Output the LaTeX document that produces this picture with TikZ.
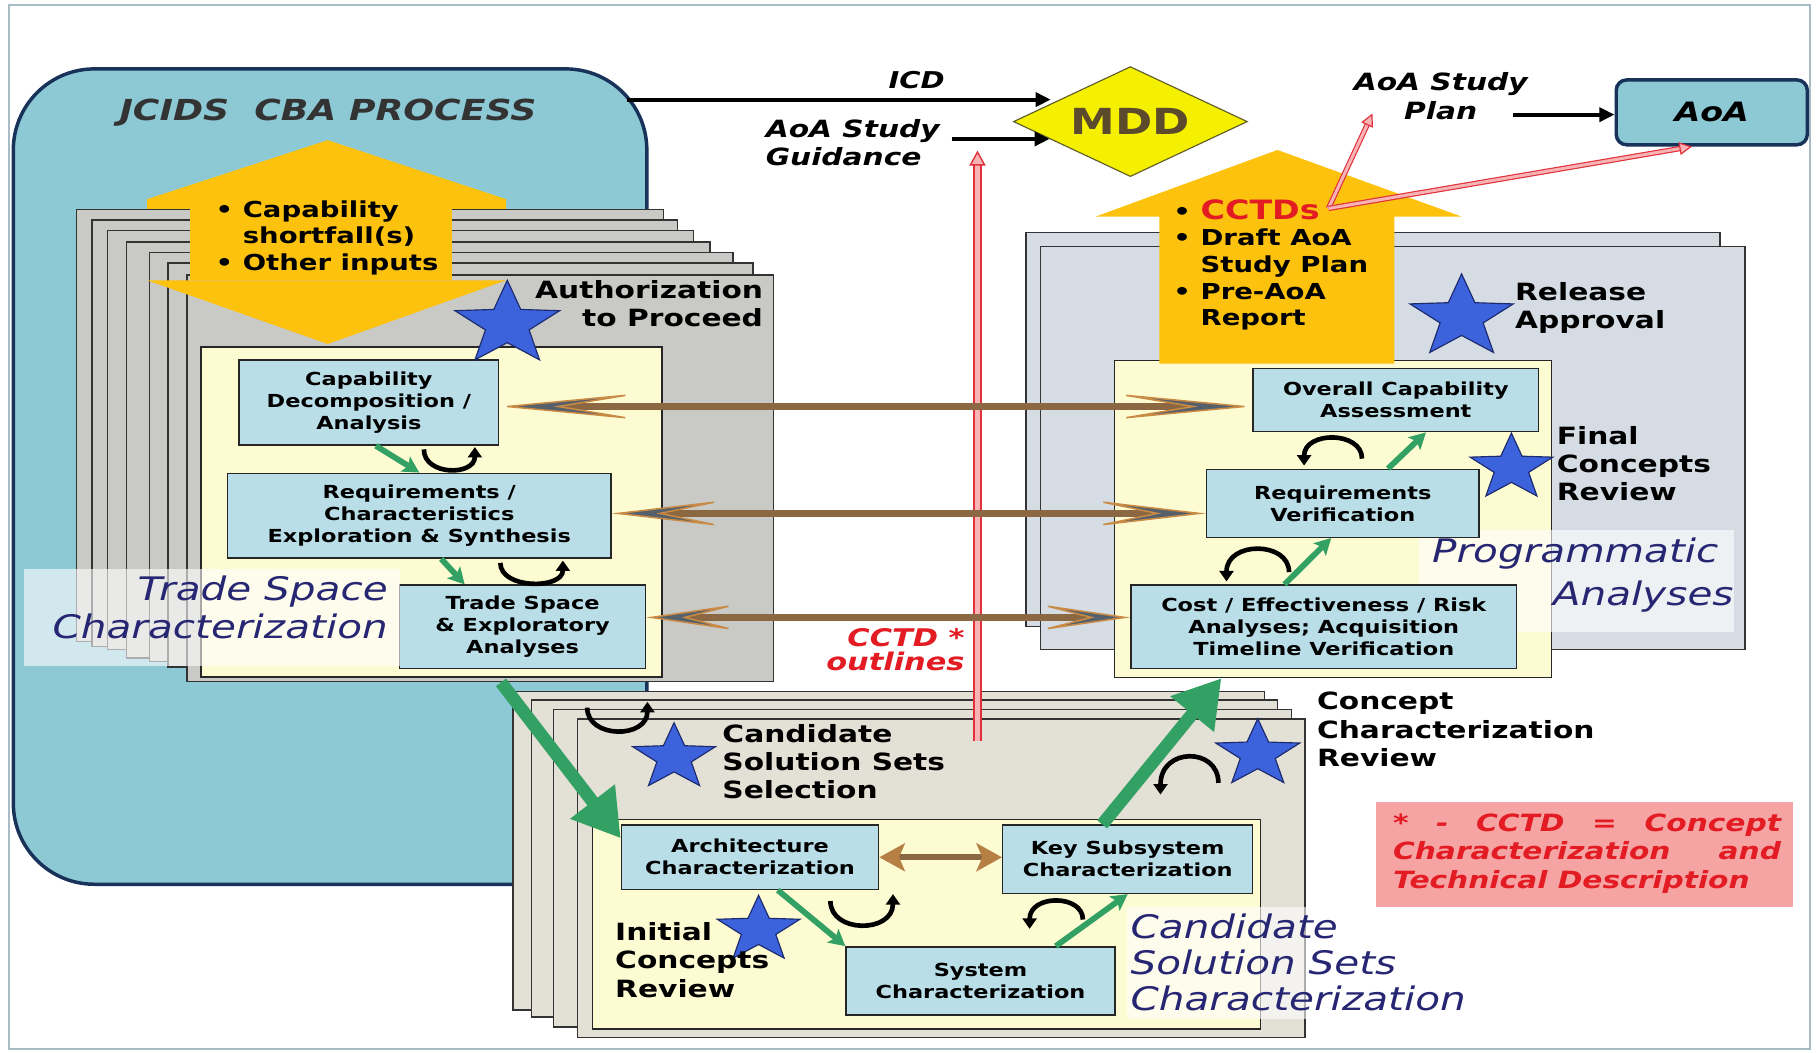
\documentclass[tikz,border=0pt]{standalone}
\usepackage{fontspec}
\setmainfont{DejaVu Sans}[FakeStretch=1.25]
\usetikzlibrary{arrows.meta,shapes.geometric,calc}
\definecolor{jcblue}{HTML}{8DC9D5}
\definecolor{navyb}{HTML}{18325A}
\definecolor{paleblue}{HTML}{B9DEE8}
\definecolor{paleyel}{HTML}{FDFBD2}
\definecolor{pagegray}{HTML}{C9C9C6}
\definecolor{pageblue}{HTML}{D5DCE3}
\definecolor{pagebeige}{HTML}{E3E0D6}
\definecolor{amber}{HTML}{FDC20E}
\definecolor{mddyel}{HTML}{F5F000}
\definecolor{starblue}{HTML}{3C62DC}
\definecolor{stardark}{HTML}{1C2B6E}
\definecolor{ggreen}{HTML}{33A064}
\definecolor{brownline}{HTML}{8B6842}
\definecolor{brownedge}{HTML}{C98A45}
\definecolor{slatefill}{HTML}{56606A}
\definecolor{navytext}{HTML}{262673}
\definecolor{cred}{HTML}{E31B23}
\definecolor{notefill}{HTML}{F5A3A3}
\definecolor{redline}{HTML}{E0303A}
\definecolor{pinkfill}{HTML}{F8B4B4}
\definecolor{framecol}{HTML}{A9BCC6}
\definecolor{mddtext}{HTML}{5B4A2C}
\newcommand{\myfs}[2]{\fontsize{#1}{#2}\selectfont}
\newcommand{\milestar}[4]{\begin{scope}[shift={(#2,#3)},xscale=1.25]\node[mstarsty,transform shape,minimum size=#4] (#1) at (0,0) {};\end{scope}}
\begin{document}
\begin{tikzpicture}[x=1pt,y=-1pt,
 pbox/.style={draw=black!85,line width=1.2pt,fill=paleblue,inner sep=0pt,align=center,font=\myfs{15.5}{19}\bfseries,text=black},
 ybox/.style={draw=black!85,line width=1.2pt,fill=paleyel,inner sep=0pt,anchor=north west},
 pagesty/.style={draw=black!80,line width=1.2pt},
 mstarsty/.style={star,star points=5,star point ratio=2.4,fill=starblue,draw=stardark,line width=1pt,inner sep=0pt},
 milestone/.style={font=\myfs{20.5}{24.5}\bfseries,inner sep=0pt,align=left,text=black},
 italab/.style={font=\myfs{28}{33}\itshape,text=navytext,inner sep=0pt},
 loopsty/.style={draw=black,line width=4pt,-{Triangle[length=9pt,width=12pt]}},
 gsmall/.style={draw=ggreen,line width=5pt,-{Stealth[length=14pt,width=15pt,inset=3pt]}},
 gbig/.style={draw=ggreen,line width=11pt,-{Triangle[length=40pt,width=46pt]}},
 barrow/.style 2 args={draw=brownline,line width=5.5pt,arrows={Stealth[length=#1,width=24pt,inset=#2,line width=1.3pt,color=brownedge,fill=slatefill]-Stealth[length=#1,width=24pt,inset=#2,line width=1.3pt,color=brownedge,fill=slatefill]}},
 bshort/.style={draw=brownline,line width=5pt,arrows={Stealth[length=22pt,width=24pt,inset=5pt,color=brownedge!70!brownline]-Stealth[length=22pt,width=24pt,inset=5pt,color=brownedge!70!brownline]}},
 blkarrow/.style={draw=black,line width=3.5pt,-{Triangle[length=13pt,width=12pt]}},
 redshaft/.style={draw=redline,line width=1.3pt,double=pinkfill,double distance=4.5pt},
 redshaftb/.style={draw=redline,line width=1pt,double=pinkfill,double distance=2.6pt},
 redhead/.style={draw=redline,line width=1.2pt,-{Triangle[length=13pt,width=14pt,fill=pinkfill]}},
 redheadb/.style={draw=redline,line width=1pt,-{Triangle[length=11pt,width=11pt,fill=pinkfill]}},
 boldital/.style={font=\myfs{20.5}{24.5}\bfseries\itshape,inner sep=0pt}
]
\useasboundingbox (0,0) rectangle (1568,909);
\fill[white] (0,0) rectangle (1568,909);
\draw[framecol,line width=2pt] (8,4.5) rectangle (1563,905.5);

% JCIDS box
\node[draw=navyb,line width=3pt,fill=jcblue,rounded corners=70pt,minimum width=547pt,minimum height=704pt,anchor=north west,inner sep=0pt] (jcids) at (10,58) {};
\node[anchor=base west,font=\myfs{25}{25}\bfseries\itshape,text=black!80,inner sep=0pt] (tJC) at (103,104) {JCIDS~~CBA PROCESS};

% left yellow hexagon (behind pages)
\fill[amber] (283,121) -- (437,172) -- (437,242) -- (283,297) -- (127,242) -- (127,172) -- cycle;

% left stack of pages
\foreach \l/\t/\r/\b in {66/181/573/554, 79.5/190/585/558, 93/199/599/561, 109/209/613/568, 129/218/633/571, 145/227/650/576}{
  \filldraw[pagesty,fill=pagegray] (\l,\t) rectangle (\r,\b);
}
\node[pagesty,fill=pagegray,anchor=north west,minimum width=506pt,minimum height=351pt,inner sep=0pt] (lpage) at (161,237) {};

% yellow parts in front of pages
\fill[amber] (164,174) rectangle (390,242);
\fill[amber] (127,242) -- (437,242) -- (283,297) -- cycle;
\node[anchor=north west,align=left,font=\myfs{19}{23}\bfseries,inner sep=0pt] (hextxt) at (186,172.8) {•~Capability\\\phantom{•~}shortfall(s)\\•~Other inputs};

% left yellow box and boxes
\node[ybox,minimum width=398pt,minimum height=285pt] (lyel) at (173,299) {};
\node[pbox,minimum width=224pt,minimum height=73.4pt] (capdec) at (318.5,347.6) {Capability\\Decomposition /\\Analysis};
\node[pbox,minimum width=331pt,minimum height=73.3pt] (req) at (362,445.3) {Requirements /\\Characteristics\\Exploration \& Synthesis};
\node[pbox,minimum width=212.3pt,minimum height=71.8pt] (trade) at (451.2,541.1) {Trade Space\\\& Exploratory\\Analyses};

% Trade Space Characterization label
\fill[white,opacity=0.6] (21,491) rectangle (345,575);
\node[italab,anchor=north east,align=right] (tTSC) at (335,497) {Trade Space\\Characterization};

% Authorization star
\milestar{stAuth}{438}{280}{76pt}
\node[milestone,anchor=north east,align=right] (tAuth) at (659,241.6) {Authorization\\to Proceed};

% right pages
\filldraw[pagesty,fill=pageblue] (886,201) rectangle (1485,541);
\node[pagesty,fill=pageblue,anchor=north west,minimum width=608pt,minimum height=348pt,inner sep=0pt] (rpage) at (898,212) {};
\node[ybox,minimum width=377.4pt,minimum height=273.5pt] (ryel) at (961.6,310.9) {};
\fill[white,opacity=0.6] (1225,458) rectangle (1497,546);

% right yellow up arrow
\fill[amber] (1103,129.5) -- (1262,187) -- (1204,187) -- (1204,314) -- (1001,314) -- (1001,187) -- (946,187) -- cycle;
\node[anchor=north west,align=left,font=\myfs{19}{23}\bfseries,inner sep=0pt] (ratxt) at (1013,172) {•~{\color{cred}\myfs{23}{23}CCTDs}\\•~Draft AoA\\\phantom{•~}Study Plan\\•~Pre-AoA\\\phantom{•~}Report};

% right boxes
\node[pbox,minimum width=246.8pt,minimum height=54.8pt] (overall) at (1205.2,345.4) {Overall Capability\\Assessment};
\node[pbox,minimum width=235.4pt,minimum height=58.7pt] (reqver) at (1159.4,434.6) {Requirements\\Verification};
\node[pbox,minimum width=333.2pt,minimum height=71.8pt] (cost) at (1143,541.1) {Cost / Effectiveness / Risk\\Analyses; Acquisition\\Timeline Verification};

\milestar{stRel}{1262}{274}{75pt}
\node[milestone,anchor=north west] (tRel) at (1308,243.6) {Release\\Approval};
\milestar{stFin}{1305}{404}{60pt}
\node[milestone,anchor=north west] (tFin) at (1344,367.6) {Final\\Concepts\\Review};
\node[italab,anchor=north east,align=right,font=\myfs{28}{37}\itshape] (tPA) at (1497,464) {Programmatic\hspace*{13pt}\\Analyses};

% bottom pages
\filldraw[pagesty,fill=pagebeige] (443,597) rectangle (1092,872);
\filldraw[pagesty,fill=pagebeige] (459,604.5) rectangle (1103,878);
\filldraw[pagesty,fill=pagebeige] (478,612.5) rectangle (1115,886.6);
\node[pagesty,fill=pagebeige,anchor=north west,minimum width=628.2pt,minimum height=274.9pt,inner sep=0pt] (bpage) at (497.8,620.3) {};
\node[ybox,minimum width=577pt,minimum height=181pt] (byel) at (511,707) {};

\node[pbox,minimum width=222.1pt,minimum height=55.6pt] (arch) at (647.6,740.2) {Architecture\\Characterization};
\node[pbox,minimum width=215.9pt,minimum height=59pt] (key) at (973.7,741.9) {Key Subsystem\\Characterization};
\node[pbox,minimum width=232.2pt,minimum height=59pt] (sys) at (846.6,847) {System\\Characterization};

\milestar{stSel}{582}{654}{60pt}
\node[milestone,anchor=north west] (tSel) at (623.6,625) {Candidate\\Solution Sets\\Selection};
\milestar{stCCR}{1086}{651}{61pt}
\node[milestone,anchor=north west] (tCCR) at (1137,597.6) {Concept\\Characterization\\Review};
\milestar{stICR}{655}{803}{60pt}
\node[milestone,anchor=north west] (tICR) at (531,796.3) {Initial\\Concepts\\Review};
\fill[white,opacity=0.6] (973,783) rectangle (1282,880);
\node[italab,anchor=north west,align=left,font=\myfs{28}{31}\itshape] (tCSC) at (976,788.7) {Candidate\\Solution Sets\\Characterization};

% red vertical arrow
\coordinate (rv0) at (844,640);
\coordinate (rv1) at (844,130);
\draw[redshaft,shorten >=12pt] (rv0) -- (rv1);
\draw[redhead] ($(rv1)!3pt!(rv0)$) -- (rv1);

% brown double arrows
\draw[barrow={127pt}{72pt}] ([yshift=-3.4pt]capdec.east) -- ([yshift=-3.4pt]capdec.east -| overall.west);
\draw[barrow={103pt}{58pt}] ([yshift=2pt]req.east) -- ([yshift=2pt]req.east -| reqver.west);
\draw[barrow={83pt}{47pt}] ([yshift=8pt]trade.east) -- ([yshift=8pt]trade.east -| cost.west);
\draw[bshort] (arch.east) -- (arch.east -| key.west);

% green arrows
\draw[gsmall] ([xshift=6pt]capdec.south) -- (req.north);
\draw[gsmall] ([xshift=19pt]req.south) -- ([xshift=-50pt]trade.north);
\draw[gsmall] ([xshift=-34pt]cost.north) -- ([xshift=-10pt]reqver.south);
\draw[gsmall] ([xshift=39pt]reqver.north) -- ([xshift=26pt]overall.south);
\draw[gsmall] ([xshift=24pt]arch.south) -- (sys.north west);
\draw[gsmall] ([xshift=65pt]sys.north) -- (key.south);
\draw[gbig] ([xshift=18pt]lpage.south) -- ([yshift=-12pt]arch.north west);
\draw[gbig] ([xshift=-22pt]key.north) -- ([xshift=93pt]ryel.south west);

% loops
\draw[loopsty] (366,388) .. controls (366,411) and (410,411) .. (410,386);
\draw[loopsty] (432,486) .. controls (432,509) and (486,509) .. (486,484);
\draw[loopsty] (507,611) .. controls (507,638) and (559,638) .. (559,606);
\draw[loopsty] (717,778) .. controls (717,806) and (771,806) .. (771,772);
\draw[loopsty] (1176,396) .. controls (1176,372) and (1126,372) .. (1126,402);
\draw[loopsty] (1113,494) .. controls (1113,467) and (1059,467) .. (1059,502);
\draw[loopsty] (1052,676) .. controls (1052,645) and (1002,645) .. (1002,686);
\draw[loopsty] (935,794) .. controls (935,772) and (889,772) .. (889,802);

% MDD and top flow
\node[diamond,draw=olive!60!black,line width=1pt,fill=mddyel,minimum width=202pt,minimum height=95pt,inner sep=0pt] (mdd) at (976,105) {};
\node[font=\myfs{31}{31}\bfseries,text=mddtext,inner sep=0pt] (tMDD) at (mdd.center) {MDD};
\coordinate (icd0) at (541,86);
\draw[blkarrow,shorten >=18pt] (icd0) -- (icd0 -| mdd.north west);
\node[anchor=base west,font=\myfs{20}{20}\bfseries\itshape,inner sep=0pt] (tICD) at (767,76) {ICD};
\node[boldital,anchor=north west,align=left] (guid) at (661,102.6) {AoA Study\\Guidance};
\coordinate (g0) at ($(guid.east)+(10,-3)$);
\draw[blkarrow,shorten >=19pt] (g0) -- (g0 -| mdd.south west);

\node[boldital,anchor=north,align=center] (aoaplan) at (1244,62.6) {AoA Study\\Plan};
\node[draw=navyb,line width=3pt,fill=jcblue,rounded corners=9pt,minimum width=165pt,minimum height=56pt,inner sep=0pt,font=\myfs{23}{23}\bfseries\itshape] (aoa) at (1478,97) {AoA};
\coordinate (p0) at ($(aoaplan.east |- aoa.west)+(-13,2)$);
\draw[blkarrow] (p0) -- (p0 -| aoa.west);

% red arrows from CCTDs
\coordinate (cctd) at (1147,180);
\coordinate (planpt) at (1185,98);
\coordinate (aoapt) at ($(aoa.south)+(-17,0)$);
\draw[redshaftb,shorten >=9pt] (cctd) -- (planpt);
\draw[redheadb] ($(planpt)!3pt!(cctd)$) -- (planpt);
\draw[redshaftb,shorten >=9pt] (cctd) -- (aoapt);
\draw[redheadb] ($(aoapt)!3pt!(cctd)$) -- (aoapt);

% CCTD outlines label
\node[anchor=north east,align=right,font=\myfs{21}{20.5}\bfseries\itshape,text=cred,inner sep=0pt] (tOut) at (833,542.6) {CCTD *\\outlines};

% note box
\node[fill=notefill,minimum width=360pt,minimum height=90.4pt,anchor=north west,inner sep=0pt] (note) at (1188,692.6) {};
\node[anchor=north west,align=left,font=\myfs{20.5}{24.5}\bfseries\itshape,text=cred,inner sep=0pt] (notetxt) at (1202.6,702.6) {\hbox to 335pt{*\hfill -\hfill CCTD\hfill =\hfill Concept}\\\hbox to 335pt{Characterization\hfill and}\\Technical Description};
\end{tikzpicture}
\end{document}
